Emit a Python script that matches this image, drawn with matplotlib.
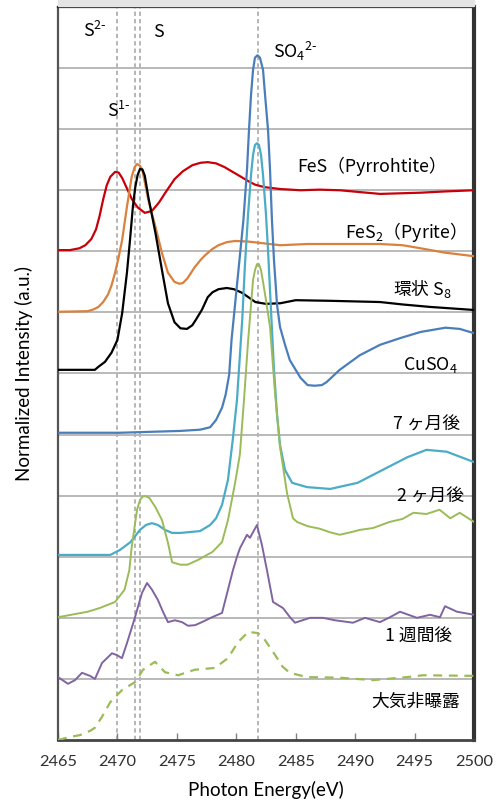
import matplotlib
matplotlib.use('Agg')
import matplotlib.pyplot as plt
from matplotlib.patches import Rectangle

plt.rcParams['font.family'] = ['Noto Sans CJK JP', 'DejaVu Sans']
plt.rcParams['mathtext.default'] = 'regular'

# ---- data ----
fes_e = [2465, 2466.0, 2466.8, 2467.3, 2467.8, 2468.2, 2468.5, 2468.8, 2469.1, 2469.4, 2469.8,
         2470.1, 2470.4, 2470.8, 2471.2, 2471.7, 2472.3, 2472.9, 2473.5, 2474.1, 2474.8,
         2475.5, 2476.3, 2477.0, 2477.6, 2478.3, 2479.0, 2479.7, 2480.4, 2481.0, 2481.6,
         2482.4, 2483.7, 2485.4, 2487.0, 2488.7, 2490.4, 2492.1, 2493.8, 2495.5, 2497.5, 2500]
fes_i = [8.02, 8.02, 8.05, 8.10, 8.20, 8.36, 8.58, 8.85, 9.08, 9.22, 9.30,
         9.29, 9.20, 9.03, 8.86, 8.72, 8.63, 8.66, 8.80, 8.98, 9.18,
         9.31, 9.41, 9.45, 9.46, 9.44, 9.38, 9.30, 9.22, 9.15, 9.09,
         9.05, 9.02, 9.00, 9.01, 9.00, 8.97, 8.94, 8.95, 8.96, 8.98, 9.00]

fes2_e = [2465, 2467.5, 2468.0, 2468.4, 2468.8, 2469.2, 2469.5, 2469.8, 2470.1, 2470.4, 2470.8,
          2471.2, 2471.45, 2471.65, 2471.9, 2472.1, 2472.6, 2473.2, 2473.75, 2474.25, 2474.8,
          2475.2, 2475.5, 2475.9, 2476.5, 2477.0, 2477.4, 2478.0, 2478.5, 2479.2, 2479.9,
          2481.0, 2483.7, 2486.0, 2488.7, 2492.1, 2494.0, 2495.5, 2497.5, 2500]
fes2_i = [7.01, 7.02, 7.05, 7.09, 7.17, 7.29, 7.44, 7.65, 7.90, 8.19, 8.73,
          9.22, 9.38, 9.43, 9.40, 9.33, 8.84, 8.40, 7.97, 7.65, 7.50,
          7.47, 7.48, 7.56, 7.74, 7.86, 7.94, 8.04, 8.10, 8.15, 8.17,
          8.16, 8.10, 8.12, 8.12, 8.12, 8.10, 8.05, 7.98, 7.92]

s8_e = [2465, 2468.1, 2468.4, 2468.95, 2469.5, 2470.0, 2470.4, 2470.8, 2471.06, 2471.3, 2471.5,
        2471.7, 2471.9, 2472.1, 2472.3, 2472.6, 2473.2, 2473.75, 2474.25, 2474.8, 2475.3,
        2475.85, 2476.3, 2476.6, 2477.1, 2477.6, 2478.0, 2478.5, 2479.2, 2479.8, 2480.5,
        2481.6, 2482.5, 2483.7, 2485.0, 2487.9, 2490.0, 2492.1, 2494.0, 2496.3, 2500]
s8_i = [6.06, 6.06, 6.11, 6.19, 6.34, 6.55, 6.99, 7.65, 8.19, 8.73, 9.05,
        9.25, 9.35, 9.34, 9.24, 8.89, 8.30, 7.69, 7.15, 6.84, 6.74,
        6.73, 6.79, 6.88, 7.04, 7.25, 7.33, 7.38, 7.40, 7.38, 7.32,
        7.17, 7.14, 7.15, 7.20, 7.19, 7.18, 7.17, 7.13, 7.09, 7.04]

cuso4_e = [2465, 2470.2, 2475.3, 2476.95, 2477.8, 2478.3, 2478.8, 2479.1, 2479.4, 2479.6, 2480.1,
           2480.6, 2480.9, 2481.07, 2481.24, 2481.41, 2481.57, 2481.78, 2481.99, 2482.25, 2482.42,
           2482.67, 2482.84, 2483.0, 2483.17, 2483.43, 2483.68, 2484.1, 2484.5, 2485.4, 2486.0,
           2486.6, 2487.2, 2487.6, 2488.7, 2490.4, 2492.1, 2493.8, 2495.5, 2497.6, 2498.8, 2500]
cuso4_i = [5.03, 5.03, 5.06, 5.08, 5.12, 5.24, 5.44, 5.65, 5.98, 6.55, 7.53,
           8.51, 9.33, 9.99, 10.56, 10.97, 11.17, 11.21, 11.17, 10.97, 10.56,
           9.99, 9.33, 8.51, 7.86, 7.12, 6.76, 6.47, 6.22, 5.93, 5.81,
           5.80, 5.81, 5.86, 6.06, 6.30, 6.47, 6.58, 6.68, 6.75, 6.73, 6.66]

m7_e = [2465, 2469.4, 2470.2, 2471.1, 2471.9, 2472.4, 2472.9, 2473.4, 2474.0, 2474.6, 2475.3,
        2476.95, 2477.8, 2478.3, 2478.8, 2479.3, 2479.7, 2480.06, 2480.5, 2480.73, 2480.99,
        2481.24, 2481.41, 2481.57, 2481.74, 2481.91, 2482.08, 2482.25, 2482.5, 2482.67, 2482.92,
        2483.17, 2483.43, 2483.68, 2484.1, 2484.7, 2485.95, 2487.9, 2490.2, 2492.3, 2494.4,
        2496.0, 2497.7, 2500]
m7_i = [3.03, 3.03, 3.11, 3.24, 3.44, 3.52, 3.55, 3.52, 3.44, 3.39, 3.39,
        3.42, 3.52, 3.63, 3.85, 4.26, 4.91, 5.57, 6.88, 7.78, 8.60,
        9.25, 9.58, 9.74, 9.77, 9.74, 9.58, 9.25, 8.60, 8.02, 7.04,
        6.06, 5.32, 4.83, 4.42, 4.21, 4.14, 4.11, 4.21, 4.42, 4.63,
        4.75, 4.72, 4.55]

m2_e = [2465, 2467.5, 2468.5, 2469.8, 2470.6, 2471.0, 2471.2, 2471.65, 2471.9, 2472.15, 2472.4,
        2472.7, 2473.2, 2473.75, 2474.25, 2474.6, 2475.3, 2475.9, 2476.8, 2478.0, 2478.8,
        2479.3, 2479.9, 2480.3, 2480.65, 2481.0, 2481.41, 2481.57, 2481.74, 2481.91, 2482.08,
        2482.25, 2482.5, 2482.84, 2483.26, 2483.68, 2484.27, 2484.77, 2485.11, 2486.0, 2487.0,
        2487.9, 2488.7, 2489.6, 2490.4, 2491.5, 2492.9, 2494.0, 2494.9, 2496.0, 2497.1,
        2498.0, 2498.8, 2500]
m2_i = [2.01, 2.10, 2.16, 2.26, 2.46, 2.78, 3.16, 3.77, 3.93, 3.99, 3.99,
        3.96, 3.81, 3.60, 3.23, 2.91, 2.87, 2.87, 2.95, 3.08, 3.24,
        3.60, 4.21, 4.67, 5.57, 6.55, 7.53, 7.69, 7.79, 7.79, 7.69,
        7.50, 7.20, 6.76, 5.68, 4.80, 4.04, 3.63, 3.57, 3.50, 3.46,
        3.40, 3.36, 3.40, 3.44, 3.47, 3.57, 3.62, 3.72, 3.70, 3.77,
        3.63, 3.72, 3.57]

w1_e = [2465, 2465.84, 2466.43, 2467.02, 2467.69, 2468.11, 2468.70, 2469.54, 2469.96, 2470.38, 2470.81,
        2471.48, 2472.07, 2472.49, 2472.91, 2473.41, 2473.83, 2474.25, 2474.84, 2475.43, 2475.94,
        2476.53, 2477.11, 2477.96, 2478.80, 2479.30, 2479.72, 2480.06, 2480.31, 2480.90, 2481.15,
        2481.74, 2482.16, 2482.58, 2483.09, 2483.93, 2484.52, 2484.94, 2486.20, 2487.30, 2488.30,
        2489.82, 2490.83, 2492.09, 2492.93, 2493.77, 2495.20, 2496.30, 2497.14, 2497.56, 2498.57, 2500]
w1_i = [1.03, 0.92, 0.98, 1.10, 1.05, 1.00, 1.26, 1.42, 1.39, 1.34, 1.59,
        2.01, 2.41, 2.57, 2.46, 2.29, 2.10, 1.93, 1.96, 1.93, 1.87,
        1.88, 1.93, 2.01, 2.08, 2.46, 2.78, 3.00, 3.14, 3.36, 3.31,
        3.52, 3.19, 2.78, 2.26, 2.16, 2.01, 1.92, 2.00, 2.00, 1.96,
        1.92, 2.00, 1.93, 2.01, 2.10, 2.00, 2.05, 2.01, 2.19, 2.10, 2.05]

air_e = [2465, 2466.0, 2466.85, 2467.7, 2468.1, 2468.7, 2469.4, 2470.4, 2471.5, 2472.15, 2473.16,
         2474.0, 2475.1, 2476.5, 2478.2, 2479.3, 2480.14, 2481.0, 2481.83, 2482.4, 2483.1,
         2483.9, 2484.5, 2485.95, 2488.7, 2491.5, 2494.4, 2495.7, 2500]
air_i = [0.0, 0.05, 0.08, 0.15, 0.20, 0.38, 0.62, 0.82, 0.95, 1.15, 1.28,
         1.11, 1.06, 1.15, 1.18, 1.34, 1.60, 1.77, 1.75, 1.64, 1.44,
         1.20, 1.10, 1.03, 1.02, 0.98, 1.03, 1.06, 1.05]

ref_lines = [2470.0, 2471.5, 2471.9, 2481.8]
x_ticks = [2465, 2470, 2475, 2480, 2485, 2490, 2495, 2500]

fig = plt.figure(figsize=(4.97, 8.05), dpi=100)
ax = fig.add_axes([58 / 497, 1 - 740 / 805, 416 / 497, 733 / 805])

# horizontal grid
for y in range(1, 12):
    ax.axhline(y, color='#b3b3b3', lw=1.3, zorder=0)
for x in ref_lines:
    ax.axvline(x, color='#b5b5b5', lw=1.4, ls=(0, (2.2, 1.6)), zorder=1)

ax.plot(fes_e, fes_i, color='#c8000a', lw=1.6, zorder=3)
ax.plot(fes2_e, fes2_i, color='#d9813d', lw=1.6, zorder=3)
ax.plot(s8_e, s8_i, color='black', lw=1.6, zorder=3)
ax.plot(cuso4_e, cuso4_i, color='#4a7ebb', lw=1.6, zorder=3)
ax.plot(m7_e, m7_i, color='#4bacc6', lw=1.6, zorder=3)
ax.plot(m2_e, m2_i, color='#9bbb59', lw=1.4, zorder=3)
ax.plot(w1_e, w1_i, color='#8064a2', lw=1.4, zorder=3)
ax.plot(air_e, air_i, color='#9bbb59', lw=1.6, ls=(0, (4, 3)), zorder=3)

fs = 12.8
ax.text(2467.1, 11.51, r'S$^{2\text{-}}$', fontsize=fs, va='baseline')
ax.text(2473.0, 11.51, 'S', fontsize=fs, va='baseline')
ax.text(2469.1, 10.2, r'S$^{1\text{-}}$', fontsize=fs, va='baseline')
ax.text(2483.1, 11.17, r'SO$_4$$^{2\text{-}}$', fontsize=fs, va='baseline')
ax.text(2497.7, 9.30, 'FeS（Pyrrohtite）', fontsize=fs, va='baseline', ha='right')
ax.text(2498.6, 8.22, 'FeS$_2$（Pyrite）', fontsize=fs, va='baseline', ha='right')
ax.text(2498.15, 7.29, '環状 S$_8$', fontsize=fs, va='baseline', ha='right')
ax.text(2498.6, 6.06, 'CuSO$_4$', fontsize=fs, va='baseline', ha='right')
ax.text(2498.8, 5.08, '7 ヶ月後', fontsize=fs, va='baseline', ha='right')
ax.text(2499.2, 3.9, '2 ヶ月後', fontsize=fs, va='baseline', ha='right')
ax.text(2498.15, 1.62, '1 週間後', fontsize=fs, va='baseline', ha='right')
ax.text(2498.8, 0.54, '大気非曝露', fontsize=fs, va='baseline', ha='right')

ax.set_xlim(2465, 2500)
ax.set_ylim(0, 12)
ax.set_xticks(x_ticks)
ax.set_yticks([])
ax.tick_params(axis='x', direction='in', length=5, width=1, color='#808080',
               labelsize=11.8, pad=10.5)
for lab in ax.get_xticklabels():
    lab.set_fontfamily('Lato')
    lab.set_color('#303030')
ax.set_xlabel('Photon Energy(eV)', fontfamily='Lato', fontsize=13.5, labelpad=9)
ax.set_ylabel('Normalized Intensity (a.u.)', fontfamily='Lato', fontsize=13.5, labelpad=18)

ax.spines['left'].set_color('#555555')
ax.spines['left'].set_linewidth(1.6)
ax.spines['bottom'].set_color('#444444')
ax.spines['bottom'].set_linewidth(2)
ax.spines['right'].set_color('#333333')
ax.spines['right'].set_linewidth(3)
ax.spines['top'].set_color('#222222')
ax.spines['top'].set_linewidth(1.6)

fig.patches.append(Rectangle((58 / 497, 1 - 6 / 805), 416 / 497, 6 / 805,
                             transform=fig.transFigure, color='#e4e4e4', zorder=0))

fig.savefig('out.png', dpi=100)
